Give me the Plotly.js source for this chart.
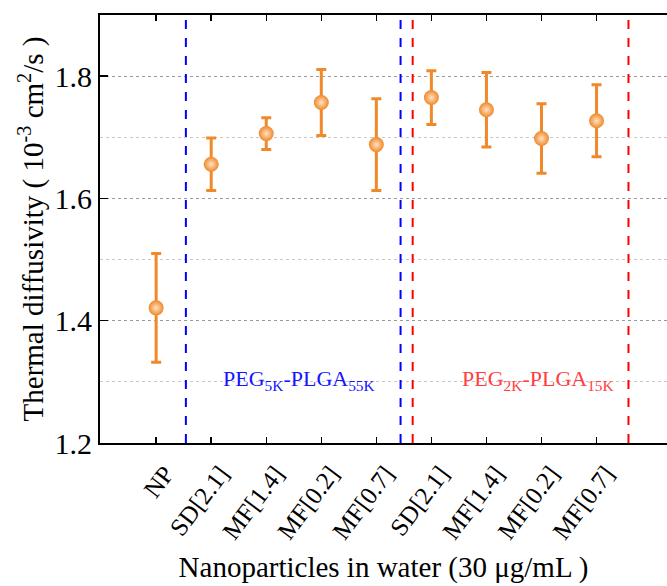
<!DOCTYPE html>
<html><head><meta charset="utf-8">
<script src="https://cdn.plot.ly/plotly-3.0.1.min.js"></script>
<style>html,body{margin:0;padding:0;background:#fff}#chart{width:667px;height:586px}</style>
</head><body><div id="chart"></div>
<script>
const categories = ["NP","SD[2.1]","MF[1.4]","MF[0.2]","MF[0.7]","SD[2.1]","MF[1.4]","MF[0.2]","MF[0.7]"];
const diffusivity = [1.421, 1.656, 1.706, 1.757, 1.688, 1.765, 1.745, 1.698, 1.727];
const errors = [0.089, 0.043, 0.026, 0.054, 0.075, 0.044, 0.061, 0.057, 0.059];
const blueLines = [0.54, 4.44];
const redLines = [4.66, 8.58];
const groupLabels = ["PEG<sub>5K</sub>-PLGA<sub>55K</sub>", "PEG<sub>2K</sub>-PLGA<sub>15K</sub>"];
const groupLabelX = [2.6, 6.93];

const xIdx = categories.map((c,i)=>i);
const orange = '#F0892A';
const serif = 'Liberation Serif, Times New Roman, serif';

const trace = {
  x: xIdx, y: diffusivity, type: 'scatter', mode: 'markers',
  marker: {size: 15, color: orange, gradient: {type: 'radial', color: '#FFE2C4'}, line: {width: 0}},
  error_y: {type: 'data', array: errors, visible: true, color: orange, thickness: 3, width: 5},
  hoverinfo: 'skip', showlegend: false
};

const shapes = [];
blueLines.forEach(v => shapes.push({type:'line', xref:'x', yref:'paper', x0:v, x1:v, y0:0, y1:1, line:{color:'#0000FF', width:2, dash:'dash'}}));
redLines.forEach(v => shapes.push({type:'line', xref:'x', yref:'paper', x0:v, x1:v, y0:0, y1:1, line:{color:'#FF0000', width:2, dash:'dash'}}));

const layout = {
  width: 667, height: 586,
  margin: {l: 100, r: 0, t: 15, b: 143},
  paper_bgcolor: '#fff', plot_bgcolor: '#fff',
  font: {family: serif, color: '#000'},
  xaxis: {
    range: [-1.02, 9.28], tickmode: 'array', tickvals: xIdx, ticktext: categories,
    tickangle: -53, ticks: 'inside', ticklen: 6, tickwidth: 1.5, tickcolor: '#000',
    showline: true, linecolor: '#000', linewidth: 2, mirror: 'ticks',
    showgrid: false, zeroline: false,
    tickfont: {family: serif, size: 25, color: '#000'},
    ticklabelshift: 9, ticklabelstandoff: 4,
    title: {text: 'Nanoparticles in water (30 μg/mL )', font: {family: serif, size: 29, color: '#000'}, standoff: 14}
  },
  yaxis: {
    range: [1.2, 1.9], tickmode: 'array', tickvals: [1.2, 1.4, 1.6, 1.8], ticktext: ['1.2','1.4','1.6','1.8'],
    ticks: 'inside', ticklen: 8, tickwidth: 1.5, tickcolor: '#000',
    showline: true, linecolor: '#000', linewidth: 2,
    showgrid: true, gridcolor: '#9a9a9a', griddash: 'dot', gridwidth: 1,
    minor: {tickvals: [1.3, 1.5, 1.7], showgrid: true, gridcolor: '#c8c8c8', griddash: 'dot', ticks: ''},
    zeroline: false,
    tickfont: {family: serif, size: 30, color: '#000'},
    title: {text: 'Thermal diffusivity ( 10<sup>-3</sup> cm<sup>2</sup>/s )', font: {family: serif, size: 29, color: '#000'}, standoff: 2}
  },
  shapes: shapes,
  annotations: [
    {x: groupLabelX[0], y: 1.303, xref: 'x', yref: 'y', text: groupLabels[0], showarrow: false, font: {family: serif, size: 22, color: '#1515FF'}},
    {x: groupLabelX[1], y: 1.303, xref: 'x', yref: 'y', text: groupLabels[1], showarrow: false, font: {family: serif, size: 22, color: '#FF4040'}}
  ]
};

Plotly.newPlot('chart', [trace], layout, {displayModeBar: false, staticPlot: true});
</script></body></html>
